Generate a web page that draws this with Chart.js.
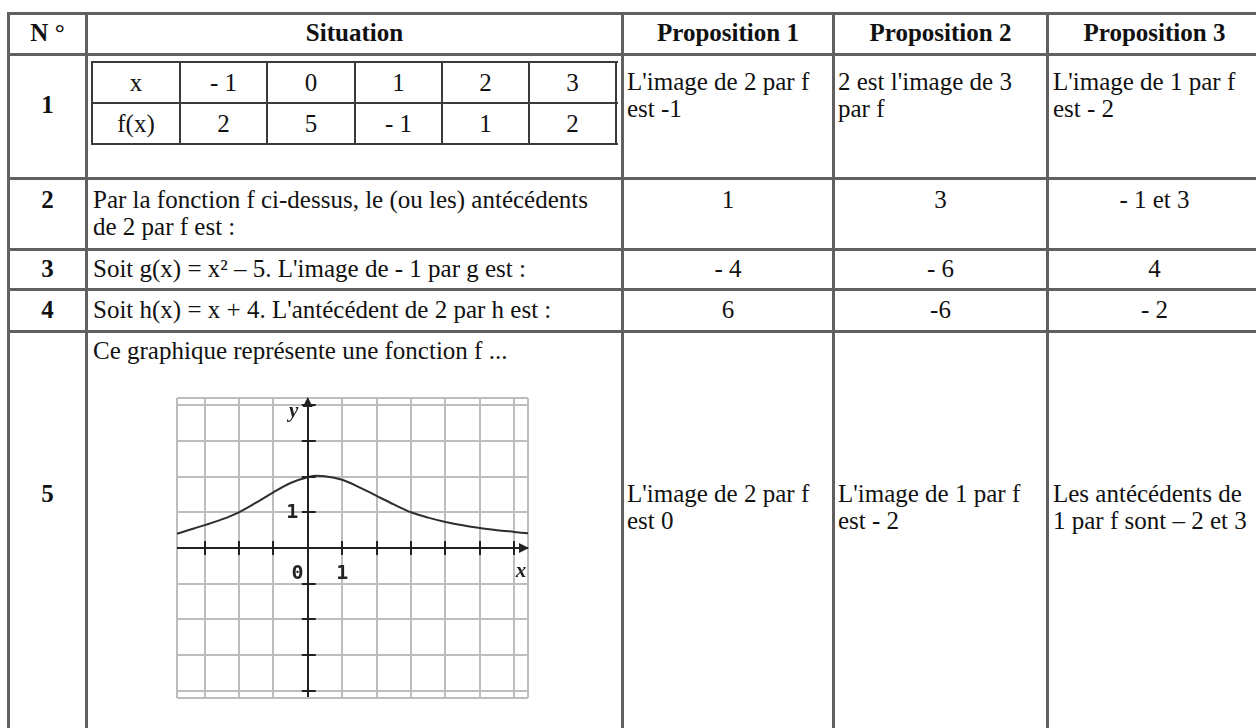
<!DOCTYPE html>
<html lang="fr">
<head>
<meta charset="utf-8">
<title>QCM fonctions</title>
<script src="https://cdn.jsdelivr.net/npm/chart.js@4.4.1/dist/chart.umd.min.js"></script>
<style>
  body { margin: 0; width: 1256px; height: 728px; overflow: hidden; background: #fff;
         font-family: "Liberation Serif", "Times New Roman", serif; color: #111; }
  .h, .v { position: absolute; background: #606060; }
  .h { height: 3px; left: 7px; width: 1260px; }
  .v { width: 3px; top: 12px; height: 740px; }
  .ih, .iv { position: absolute; background: #3a3a3a; }
  .ih { height: 2px; left: 91px; width: 527px; }
  .iv { width: 2px; top: 61px; height: 84px; }
  .t { position: absolute; font-size: 25px; line-height: 27px; white-space: nowrap; }
  .c { text-align: center; }
  .b { font-weight: bold; }
  #graphe { position: absolute; left: 167px; top: 388px; width: 372px; height: 320px; }
</style>
</head>
<body>

<!-- lignes du tableau principal -->
<div class="h" style="top:12px"></div>
<div class="h" style="top:53px"></div>
<div class="h" style="top:177px"></div>
<div class="h" style="top:248px"></div>
<div class="h" style="top:288px"></div>
<div class="h" style="top:330px"></div>
<div class="v" style="left:7px"></div>
<div class="v" style="left:85px"></div>
<div class="v" style="left:621px"></div>
<div class="v" style="left:832px"></div>
<div class="v" style="left:1046px"></div>

<!-- petit tableau de valeurs -->
<div class="ih" style="top:61px"></div>
<div class="ih" style="top:102px"></div>
<div class="ih" style="top:143px"></div>
<div class="iv" style="left:91px"></div>
<div class="iv" style="left:179px"></div>
<div class="iv" style="left:266px"></div>
<div class="iv" style="left:354px"></div>
<div class="iv" style="left:441px"></div>
<div class="iv" style="left:528px"></div>
<div class="iv" style="left:615px"></div>

<!-- en-tête -->
<div class="t c b" style="left:9px;width:77px;top:19px">N °</div>
<div class="t c b" style="left:87px;width:535px;top:19px">Situation</div>
<div class="t c b" style="left:623px;width:210px;top:19px">Proposition 1</div>
<div class="t c b" style="left:834px;width:213px;top:19px">Proposition 2</div>
<div class="t c b" style="left:1048px;width:213px;top:19px">Proposition 3</div>

<!-- ligne 1 -->
<div class="t c b" style="left:9px;width:77px;top:91px">1</div>
<div class="t c" style="left:92px;width:88px;top:69px">x</div>
<div class="t c" style="left:180px;width:87px;top:69px">- 1</div>
<div class="t c" style="left:267px;width:88px;top:69px">0</div>
<div class="t c" style="left:355px;width:87px;top:69px">1</div>
<div class="t c" style="left:442px;width:87px;top:69px">2</div>
<div class="t c" style="left:529px;width:87px;top:69px">3</div>
<div class="t c" style="left:92px;width:88px;top:110px">f(x)</div>
<div class="t c" style="left:180px;width:87px;top:110px">2</div>
<div class="t c" style="left:267px;width:88px;top:110px">5</div>
<div class="t c" style="left:355px;width:87px;top:110px">- 1</div>
<div class="t c" style="left:442px;width:87px;top:110px">1</div>
<div class="t c" style="left:529px;width:87px;top:110px">2</div>
<div class="t" style="left:627px;top:68px">L'image de 2 par f<br>est -1</div>
<div class="t" style="left:838px;top:68px">2 est l'image de 3<br>par f</div>
<div class="t" style="left:1053px;top:68px">L'image de 1 par f<br>est - 2</div>

<!-- ligne 2 -->
<div class="t c b" style="left:9px;width:77px;top:186px">2</div>
<div class="t" style="left:93px;top:186px">Par la fonction f ci-dessus, le (ou les) antécédents<br>de 2 par f est :</div>
<div class="t c" style="left:623px;width:210px;top:186px">1</div>
<div class="t c" style="left:834px;width:213px;top:186px">3</div>
<div class="t c" style="left:1048px;width:213px;top:186px">- 1 et 3</div>

<!-- ligne 3 -->
<div class="t c b" style="left:9px;width:77px;top:255px">3</div>
<div class="t" style="left:93px;top:255px">Soit g(x) = x² – 5. L'image de - 1 par g est :</div>
<div class="t c" style="left:623px;width:210px;top:255px">- 4</div>
<div class="t c" style="left:834px;width:213px;top:255px">- 6</div>
<div class="t c" style="left:1048px;width:213px;top:255px">4</div>

<!-- ligne 4 -->
<div class="t c b" style="left:9px;width:77px;top:296px">4</div>
<div class="t" style="left:93px;top:296px">Soit h(x) = x + 4. L'antécédent de 2 par h est :</div>
<div class="t c" style="left:623px;width:210px;top:296px">6</div>
<div class="t c" style="left:834px;width:213px;top:296px">-6</div>
<div class="t c" style="left:1048px;width:213px;top:296px">- 2</div>

<!-- ligne 5 -->
<div class="t c b" style="left:9px;width:77px;top:480px">5</div>
<div class="t" style="left:93px;top:337px">Ce graphique représente une fonction f ...</div>
<div class="t" style="left:627px;top:480px">L'image de 2 par f<br>est 0</div>
<div class="t" style="left:838px;top:480px">L'image de 1 par f<br>est - 2</div>
<div class="t" style="left:1053px;top:480px">Les antécédents de<br>1 par f sont – 2 et 3</div>

<div id="graphe"><canvas id="courbe"></canvas></div>

<script>
// Points de la courbe
const courbeX = [-3.8, -3.5, -3, -2.5, -2, -1.5, -1, -0.5, 0, 0.25, 0.5, 1, 1.5, 2, 2.5, 3, 3.5, 4, 4.5, 5, 5.5, 6, 6.4];
const courbeY = [0.40, 0.49, 0.64, 0.80, 1.0, 1.27, 1.56, 1.82, 1.98, 2.02, 2.01, 1.91, 1.70, 1.46, 1.22, 1.0, 0.85, 0.73, 0.64, 0.56, 0.50, 0.45, 0.41];

// Quadrillage (bords du cadre compris)
const grilleX = [-3.8, -3, -2, -1, 0, 1, 2, 3, 4, 5, 6, 6.4];
const grilleY = [-4.2, -4, -3, -2, -1, 0, 1, 2, 3, 4, 4.2];

// Graduations sur les axes
const gradX = [-3, -2, -1, 1, 2, 3, 4, 5, 6];
const gradY = [-4, -3, -2, -1, 1, 2, 3, 4];

// Etiquettes des axes : [texte, x, y]
const etiquettes = [['0', -0.3, -0.72], ['1', 1, -0.72], ['1', -0.45, 0.98]];

const points = courbeX.map((x, i) => ({ x: x, y: courbeY[i] }));

// Axes, flèches, graduations et étiquettes
const axesRepere = {
  id: 'axesRepere',
  afterDatasetsDraw(chart) {
    const { ctx, scales: { x, y } } = chart;
    const x0 = x.getPixelForValue(0);
    const y0 = y.getPixelForValue(0);
    ctx.save();
    ctx.strokeStyle = '#222';
    ctx.fillStyle = '#222';
    ctx.lineWidth = 2;
    ctx.beginPath();
    gradX.forEach(v => {
      const px = Math.round(x.getPixelForValue(v));
      ctx.moveTo(px, y0 - 7);
      ctx.lineTo(px, y0 + 7);
    });
    gradY.forEach(v => {
      const py = Math.round(y.getPixelForValue(v));
      ctx.moveTo(x0 - 6, py);
      ctx.lineTo(x0 + 8, py);
    });
    ctx.stroke();

    // flèches
    ctx.beginPath();
    ctx.moveTo(x.right + 1, y0);
    ctx.lineTo(x.right - 9, y0 - 5);
    ctx.lineTo(x.right - 9, y0 + 5);
    ctx.closePath();
    ctx.moveTo(x0, y.top - 1);
    ctx.lineTo(x0 - 5, y.top + 9);
    ctx.lineTo(x0 + 5, y.top + 9);
    ctx.closePath();
    ctx.fill();

    ctx.textAlign = 'center';
    ctx.textBaseline = 'middle';
    ctx.font = 'bold 20px "DejaVu Sans Mono"';
    etiquettes.forEach(([txt, vx, vy]) => {
      ctx.fillText(txt, x.getPixelForValue(vx), y.getPixelForValue(vy));
    });
    ctx.font = 'italic bold 21px "Liberation Serif"';
    ctx.fillText('x', x.right - 7, y0 + 24);
    ctx.fillText('y', x0 - 14, y.top + 14);
    ctx.restore();
  }
};

new Chart(document.getElementById('courbe'), {
  type: 'scatter',
  data: {
    datasets: [{
      data: points,
      showLine: true,
      borderColor: '#2e2e2e',
      borderWidth: 2,
      pointRadius: 0,
      cubicInterpolationMode: 'monotone'
    }]
  },
  options: {
    responsive: true,
    maintainAspectRatio: false,
    devicePixelRatio: 1,
    animation: false,
    layout: { padding: { left: 10, right: 11, top: 10, bottom: 10 } },
    plugins: { legend: { display: false }, tooltip: { enabled: false } },
    scales: {
      x: {
        type: 'linear',
        min: -3.8,
        max: 6.4,
        afterBuildTicks: axis => { axis.ticks = grilleX.map(v => ({ value: v })); },
        ticks: { display: false },
        border: { display: false },
        grid: {
          drawTicks: false,
          lineWidth: 2,
          color: c => (c.tick && c.tick.value === 0 ? '#222' : '#bdbdbd')
        }
      },
      y: {
        type: 'linear',
        min: -4.2,
        max: 4.2,
        afterBuildTicks: axis => { axis.ticks = grilleY.map(v => ({ value: v })); },
        ticks: { display: false },
        border: { display: false },
        grid: {
          drawTicks: false,
          lineWidth: 2,
          color: c => (c.tick && c.tick.value === 0 ? '#222' : '#bdbdbd')
        }
      }
    }
  },
  plugins: [axesRepere]
});
</script>
</body>
</html>
